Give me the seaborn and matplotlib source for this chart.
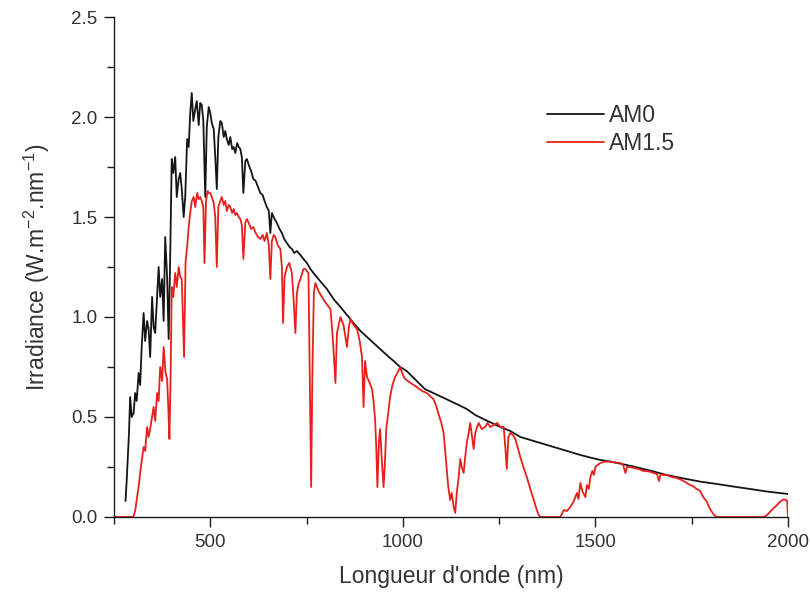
import numpy as np
import pandas as pd
import seaborn as sns
import matplotlib
matplotlib.use('Agg')
import matplotlib.pyplot as plt
from matplotlib.ticker import MultipleLocator

# AM0 spectrum (nm, W.m-2.nm-1)
am0_wl = [280, 283, 286, 289, 292, 296, 301, 305, 309, 314, 318, 322, 327, 331, 336,
          340, 344, 349, 353, 357, 362, 366, 370, 375, 379, 383, 388, 392, 396, 400,
          404, 409, 413, 418, 422, 426, 431, 435, 440, 444, 448, 452, 456, 461, 465,
          470, 474, 478, 482, 487, 491, 496, 500, 504, 509, 513, 517, 521, 526, 530,
          535, 539, 543, 548, 552, 557, 561, 565, 570, 574, 578, 582, 586, 591, 595,
          600, 606, 612, 618, 624, 630, 636, 641, 647, 652, 656, 660, 667, 673, 680,
          686, 692, 699, 706, 712, 718, 725, 734, 742, 751, 760, 768, 785, 803, 820,
          838, 855, 872, 890, 907, 924, 941, 958, 976, 993, 1010, 1036, 1057, 1079,
          1101, 1123, 1145, 1166, 1188, 1209, 1231, 1253, 1279, 1305, 1331, 1357,
          1383, 1409, 1435, 1461, 1487, 1513, 1539, 1569, 1599, 1642, 1685, 1728,
          1772, 1815, 1859, 1902, 1946, 2000]
am0_val = [0.08, 0.18, 0.30, 0.42, 0.60, 0.50, 0.52, 0.62, 0.58, 0.72, 0.66, 0.85, 1.02,
           0.88, 0.98, 0.94, 0.80, 1.10, 0.95, 0.92, 1.10, 1.25, 1.10, 1.19, 0.98, 1.40,
           1.20, 0.89, 1.30, 1.79, 1.72, 1.80, 1.60, 1.69, 1.72, 1.64, 1.50, 1.60, 1.89,
           1.85, 2.02, 2.12, 1.98, 2.04, 2.08, 1.96, 2.07, 2.06, 1.98, 1.60, 1.95, 2.05,
           2.02, 1.97, 1.94, 1.80, 1.64, 1.90, 1.98, 1.97, 1.90, 1.93, 1.89, 1.86, 1.90,
           1.84, 1.85, 1.82, 1.87, 1.85, 1.84, 1.80, 1.62, 1.78, 1.79, 1.76, 1.73, 1.69,
           1.68, 1.65, 1.62, 1.61, 1.58, 1.55, 1.53, 1.42, 1.52, 1.49, 1.47, 1.44, 1.42,
           1.39, 1.37, 1.35, 1.34, 1.32, 1.33, 1.31, 1.29, 1.27, 1.24, 1.22, 1.18, 1.14,
           1.09, 1.05, 1.01, 0.97, 0.93, 0.90, 0.87, 0.84, 0.81, 0.78, 0.75, 0.73, 0.68,
           0.64, 0.62, 0.60, 0.58, 0.56, 0.54, 0.51, 0.49, 0.47, 0.45, 0.43, 0.40, 0.385,
           0.37, 0.355, 0.34, 0.325, 0.31, 0.297, 0.285, 0.277, 0.265, 0.252, 0.232,
           0.21, 0.193, 0.177, 0.165, 0.152, 0.14, 0.127, 0.115]

# AM1.5 spectrum
am15_wl = [250, 300, 305, 310, 314, 318, 322, 327, 331, 336, 340, 344, 349, 353, 357,
           362, 366, 370, 375, 379, 384, 388, 391, 394, 397, 400, 404, 409, 413, 418,
           422, 426, 432, 436, 440, 444, 448, 452, 457, 461, 466, 470, 474, 478, 482,
           485, 489, 493, 496, 500, 504, 509, 513, 517, 521, 526, 530, 535, 539, 543,
           548, 552, 557, 561, 565, 569, 574, 578, 582, 586, 591, 595, 600, 606, 612,
           618, 624, 630, 636, 641, 647, 652, 656, 660, 665, 669, 675, 682, 686, 689,
           693, 699, 705, 712, 716, 721, 725, 730, 734, 742, 747, 755, 759, 762, 765,
           769, 773, 781, 790, 800, 812, 816, 820, 825, 829, 838, 846, 851, 855, 860,
           864, 872, 881, 888, 894, 898, 902, 907, 914, 920, 924, 928, 931, 934, 938,
           941, 945, 950, 953, 957, 962, 967, 973, 980, 986, 993, 1000, 1006, 1020,
           1036, 1050, 1062, 1079, 1086, 1092, 1100, 1106, 1110, 1114, 1118, 1123,
           1127, 1132, 1136, 1140, 1145, 1149, 1153, 1158, 1162, 1166, 1171, 1175,
           1180, 1184, 1188, 1193, 1197, 1205, 1214, 1220, 1227, 1236, 1245, 1253,
           1262, 1266, 1270, 1274, 1279, 1286, 1292, 1298, 1305, 1313, 1322, 1331,
           1340, 1347, 1353, 1357, 1409, 1414, 1418, 1426, 1435, 1444, 1452, 1456,
           1461, 1466, 1474, 1478, 1483, 1487, 1492, 1496, 1500, 1506, 1513, 1526,
           1539, 1552, 1565, 1572, 1578, 1582, 1590, 1599, 1612, 1625, 1638, 1651,
           1660, 1665, 1669, 1677, 1685, 1698, 1711, 1724, 1737, 1746, 1755, 1763,
           1772, 1780, 1789, 1795, 1802, 1808, 1815, 1937, 1946, 1954, 1963, 1972,
           1980, 1989, 1995, 1998, 2000]
am15_val = [0, 0, 0.03, 0.10, 0.15, 0.22, 0.28, 0.35, 0.33, 0.45, 0.40, 0.44, 0.50, 0.55,
            0.48, 0.62, 0.58, 0.75, 0.68, 0.85, 0.72, 0.69, 0.55, 0.39, 0.70, 1.15, 1.10,
            1.22, 1.15, 1.25, 1.20, 1.19, 0.80, 1.28, 1.35, 1.45, 1.52, 1.58, 1.60, 1.55,
            1.62, 1.59, 1.60, 1.58, 1.55, 1.27, 1.58, 1.63, 1.62, 1.62, 1.60, 1.57, 1.50,
            1.25, 1.55, 1.58, 1.60, 1.56, 1.58, 1.53, 1.56, 1.55, 1.52, 1.54, 1.51, 1.52,
            1.50, 1.49, 1.46, 1.29, 1.47, 1.49, 1.47, 1.44, 1.45, 1.42, 1.40, 1.39, 1.41,
            1.38, 1.42, 1.36, 1.19, 1.38, 1.41, 1.40, 1.36, 1.34, 1.25, 0.97, 1.20, 1.25,
            1.27, 1.22, 1.10, 0.92, 1.12, 1.17, 1.19, 1.24, 1.24, 1.22, 0.60, 0.15, 0.70,
            1.12, 1.17, 1.13, 1.10, 1.07, 1.04, 0.95, 0.84, 0.67, 0.92, 1.00, 0.96, 0.90,
            0.85, 0.95, 0.99, 0.96, 0.94, 0.88, 0.80, 0.55, 0.78, 0.70, 0.67, 0.64, 0.58,
            0.49, 0.35, 0.15, 0.38, 0.44, 0.30, 0.15, 0.25, 0.44, 0.52, 0.60, 0.66, 0.70,
            0.72, 0.75, 0.71, 0.69, 0.67, 0.65, 0.63, 0.62, 0.59, 0.56, 0.52, 0.47, 0.42,
            0.33, 0.235, 0.15, 0.085, 0.12, 0.05, 0.02, 0.12, 0.20, 0.29, 0.25, 0.22, 0.30,
            0.37, 0.42, 0.47, 0.40, 0.34, 0.42, 0.45, 0.47, 0.44, 0.45, 0.47, 0.45, 0.46,
            0.47, 0.45, 0.45, 0.35, 0.24, 0.40, 0.42, 0.41, 0.39, 0.35, 0.30, 0.25, 0.20,
            0.14, 0.085, 0.04, 0.01, 0, 0, 0.02, 0.035, 0.03, 0.05, 0.08, 0.12, 0.09, 0.17,
            0.13, 0.10, 0.16, 0.14, 0.20, 0.23, 0.21, 0.25, 0.26, 0.27, 0.277, 0.277,
            0.272, 0.27, 0.26, 0.22, 0.25, 0.25, 0.245, 0.24, 0.23, 0.228, 0.22, 0.215,
            0.18, 0.212, 0.21, 0.21, 0.20, 0.195, 0.185, 0.17, 0.16, 0.152, 0.14, 0.13,
            0.10, 0.077, 0.05, 0.027, 0.01, 0, 0, 0.01, 0.027, 0.045, 0.06, 0.078, 0.088,
            0.085, 0.077, 0.0]

sns.set_style('ticks')
plt.rcParams['font.family'] = ['Liberation Sans', 'DejaVu Sans']
plt.rcParams['mathtext.default'] = 'regular'

fig = plt.figure(figsize=(8.1, 5.93), dpi=100)
ax = fig.add_axes([0.1407, 0.1282, 0.8321, 0.8431])

sns.lineplot(x=am0_wl, y=am0_val, ax=ax, color='#151515', lw=1.3,
             estimator=None, sort=False, label='AM0')
sns.lineplot(x=am15_wl, y=am15_val, ax=ax, color='#e8201c', lw=1.3,
             estimator=None, sort=False, label='AM1.5')

ax.set_xlim(250, 2000)
ax.set_ylim(0, 2.5)
ax.xaxis.set_major_locator(MultipleLocator(500))
ax.xaxis.set_minor_locator(MultipleLocator(250))
ax.yaxis.set_major_locator(MultipleLocator(0.5))
ax.yaxis.set_minor_locator(MultipleLocator(0.25))
ax.yaxis.set_major_formatter(matplotlib.ticker.FormatStrFormatter('%.1f'))
ax.tick_params(which='major', direction='out', length=7, width=1, labelsize=13.5,
               colors='#1a1a1a', labelcolor='#333333', pad=5)
ax.tick_params(which='minor', direction='out', length=5, width=1, colors='#1a1a1a')
sns.despine(ax=ax)
for s in ['left', 'bottom']:
    ax.spines[s].set_color('#1a1a1a')
    ax.spines[s].set_linewidth(1.0)

ax.set_xlabel("Longueur d'onde (nm)", fontsize=16.5, color='#333333', labelpad=10)
ax.set_ylabel('Irradiance (W.m$^{-2}$.nm$^{-1}$)', fontsize=16.5, color='#333333',
              labelpad=14)

leg = ax.legend(loc='upper left', bbox_to_anchor=(0.642, 0.826), frameon=False,
                fontsize=16.5, handlelength=2.5, handletextpad=0.2, borderpad=0,
                borderaxespad=0, labelspacing=0.2)
for t in leg.get_texts():
    t.set_color('#333333')

fig.savefig('out.png', dpi=100)
